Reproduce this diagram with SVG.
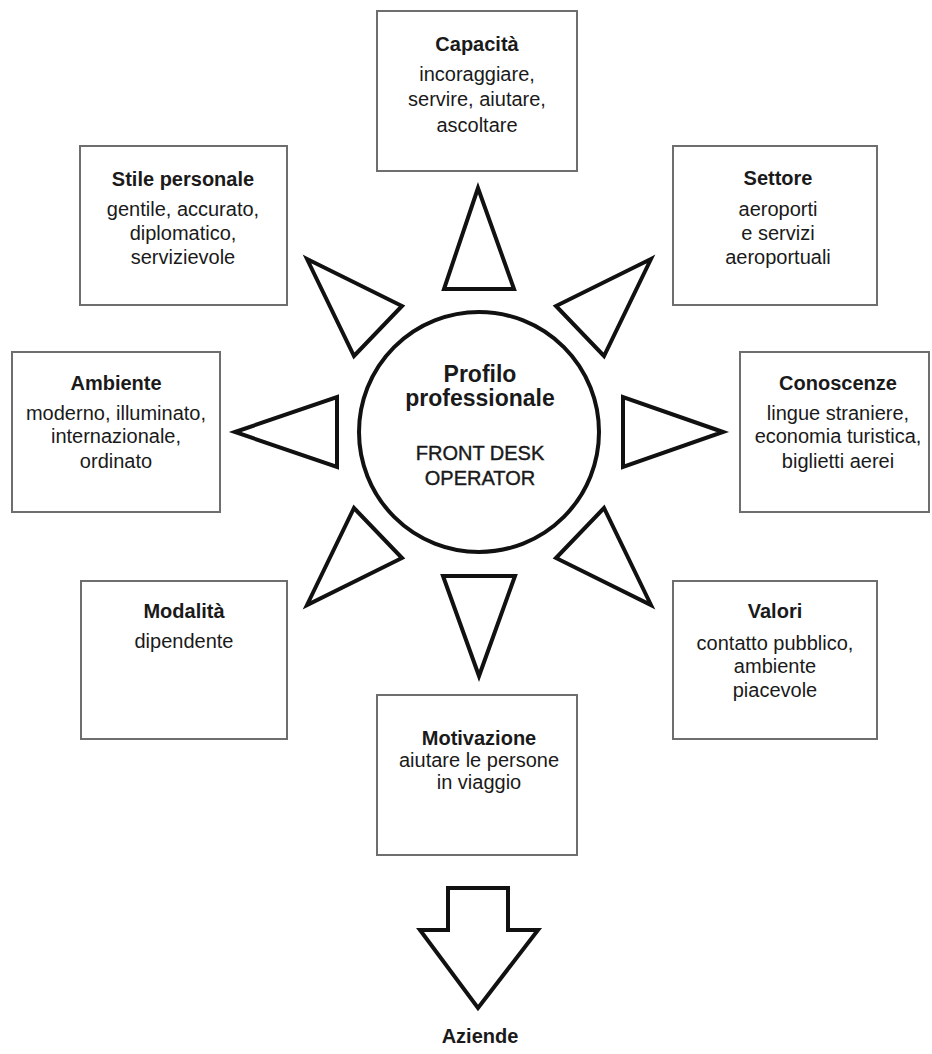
<svg xmlns="http://www.w3.org/2000/svg" width="932" height="1054" viewBox="0 0 932 1054">
<style>
.box{fill:#fff;stroke:#6e6e6e;stroke-width:2}
.tri{fill:#fff;stroke:#111;stroke-width:4;stroke-linejoin:miter}
text{font-family:"Liberation Sans",Arial,sans-serif;fill:#1a1a1a;text-anchor:middle}
.t{font-size:20px;font-weight:bold}
.b{font-size:20px}
.c{font-size:23px;font-weight:bold}
.m{font-size:20px;stroke:#1a1a1a;stroke-width:0.4}
</style>
<rect width="932" height="1054" fill="#fff"/>
<g id="connectors">
<polygon class="tri" points="478,188 444,289 514,289"/>
<polygon class="tri" points="479,676 443,576 515,576"/>
<polygon class="tri" points="235,432 337,397 337,467"/>
<polygon class="tri" points="723,432 623,397 623,467"/>
<polygon class="tri" points="307,259 402,306 354,356"/>
<polygon class="tri" points="651,259 556,306 604,356"/>
<polygon class="tri" points="307,605 354,508 402,558"/>
<polygon class="tri" points="651,605 604,508 556,558"/>
<polygon class="tri" points="448,888 508,888 508,930 538,930 478,1008 420,930 448,930"/>
</g>
<g id="center">
<circle cx="479" cy="432" r="120" fill="#fff" stroke="#111" stroke-width="4"/>
<text class="c" x="480" y="382">Profilo</text>
<text class="c" x="480" y="406">professionale</text>
<text class="m" x="480" y="460">FRONT DESK</text>
<text class="m" x="480" y="485">OPERATOR</text>
</g>
<g id="capacita">
<rect class="box" x="377" y="11" width="200" height="160"/>
<text class="t" x="477" y="51">Capacità</text>
<text class="b" x="477" y="81">incoraggiare,</text>
<text class="b" x="477" y="106">servire, aiutare,</text>
<text class="b" x="477" y="132">ascoltare</text>
</g>
<g id="stile">
<rect class="box" x="80" y="146" width="207" height="159"/>
<text class="t" x="183" y="186">Stile personale</text>
<text class="b" x="183" y="216">gentile, accurato,</text>
<text class="b" x="183" y="240">diplomatico,</text>
<text class="b" x="183" y="264">servizievole</text>
</g>
<g id="settore">
<rect class="box" x="673" y="146" width="204" height="159"/>
<text class="t" x="778" y="185">Settore</text>
<text class="b" x="778" y="216">aeroporti</text>
<text class="b" x="778" y="240">e servizi</text>
<text class="b" x="778" y="264">aeroportuali</text>
</g>
<g id="ambiente">
<rect class="box" x="12" y="352" width="208" height="160"/>
<text class="t" x="116" y="390">Ambiente</text>
<text class="b" x="116" y="420">moderno, illuminato,</text>
<text class="b" x="116" y="443">internazionale,</text>
<text class="b" x="116" y="468">ordinato</text>
</g>
<g id="conoscenze">
<rect class="box" x="740" y="352" width="189" height="160"/>
<text class="t" x="838" y="390">Conoscenze</text>
<text class="b" x="838" y="420">lingue straniere,</text>
<text class="b" x="838" y="443">economia turistica,</text>
<text class="b" x="838" y="468">biglietti aerei</text>
</g>
<g id="modalita">
<rect class="box" x="81" y="581" width="206" height="158"/>
<text class="t" x="184" y="618">Modalità</text>
<text class="b" x="184" y="648">dipendente</text>
</g>
<g id="valori">
<rect class="box" x="673" y="581" width="204" height="158"/>
<text class="t" x="775" y="618">Valori</text>
<text class="b" x="775" y="650">contatto pubblico,</text>
<text class="b" x="775" y="673">ambiente</text>
<text class="b" x="775" y="697">piacevole</text>
</g>
<g id="motivazione">
<rect class="box" x="377" y="695" width="200" height="160"/>
<text class="t" x="479" y="745">Motivazione</text>
<text class="b" x="479" y="767">aiutare le persone</text>
<text class="b" x="479" y="789">in viaggio</text>
</g>
<g id="aziende">
<text class="t" x="480" y="1043">Aziende</text>
</g>
</svg>
